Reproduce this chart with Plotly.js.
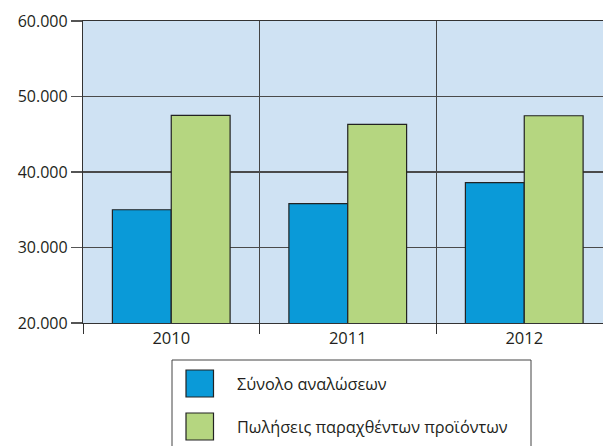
<!DOCTYPE html>
<html>
<head>
<meta charset="utf-8">
<script src="https://cdn.plot.ly/plotly-3.0.1.min.js"></script>
<style>html,body{margin:0;padding:0;background:#fff;}#chart{width:603px;height:446px;}</style>
</head>
<body>
<div id="chart"></div>
<script>
const years = ['2010', '2011', '2012'];
const seriesNames = ['Σύνολο αναλώσεων', 'Πωλήσεις παραχθέντων προϊόντων'];
const consumption = [35000, 35800, 38600];
const sales = [47500, 46300, 47450];
const seriesColors = ['#0a9ad8', '#b5d680'];
const yTicks = [20000, 30000, 40000, 50000, 60000];

const W = 603, H = 446, L = 83, R = 0, T = 21, B = 123;
const pw = W - L - R, ph = H - T - B;
const px = x => (x - L) / pw;
const py = y => (H - B - y) / ph;

const textColor = '#231f20';
const font = {family: '"Open Sans", sans-serif', size: 16, color: textColor};

const traces = [consumption, sales].map((vals, i) => ({
  type: 'bar',
  name: seriesNames[i],
  x: years,
  y: vals,
  marker: {color: seriesColors[i], line: {color: '#222', width: 1.2}},
  showlegend: false,
  hoverinfo: 'none'
}));

const shapes = [];
const annotations = [];
// legend box
shapes.push({type: 'rect', xref: 'paper', yref: 'paper',
  x0: px(172), x1: px(531), y0: py(360), y1: py(452),
  line: {color: '#444', width: 1}, fillcolor: 'rgba(0,0,0,0)'});
const itemY = [383.5, 426.5];
seriesNames.forEach((n, i) => {
  shapes.push({type: 'rect', xref: 'paper', yref: 'paper',
    x0: px(186), x1: px(213.5), y0: py(itemY[i] - 13.5), y1: py(itemY[i] + 13.5),
    line: {color: '#222', width: 1.2}, fillcolor: seriesColors[i]});
  annotations.push({xref: 'paper', yref: 'paper', x: px(235), y: py(itemY[i]),
    xanchor: 'left', yanchor: 'middle', showarrow: false, text: n,
    font: {family: '"Open Sans", sans-serif', size: 16.3, color: textColor}});
});

const layout = {
  width: W, height: H,
  margin: {l: L, r: R, t: T, b: B, pad: 0},
  paper_bgcolor: '#fff',
  plot_bgcolor: '#cfe2f3',
  separators: ',.',
  font: font,
  barmode: 'group',
  bargap: 0.333,
  bargroupgap: 0,
  showlegend: false,
  xaxis: {
    type: 'category',
    range: [-0.5, 2.5 - (9.5 / 176.5)],
    tickson: 'boundaries',
    ticks: 'outside', ticklen: 10, tickcolor: '#333', tickwidth: 1,
    showgrid: true, gridcolor: '#444', gridwidth: 1,
    showline: true, linecolor: '#333', linewidth: 1.2, mirror: true,
    tickfont: {family: '"Open Sans", sans-serif', size: 16.5, color: textColor},
    fixedrange: true
  },
  yaxis: {
    range: [20000, 60000],
    tickvals: yTicks,
    tickformat: ',d',
    ticks: 'outside', ticklen: 11, tickcolor: '#555', tickwidth: 1.5,
    showgrid: true, gridcolor: '#4a4a4a', gridwidth: 1.2,
    showline: true, linecolor: '#333', linewidth: 1.2,
    zeroline: false,
    tickfont: {family: '"Open Sans", sans-serif', size: 16, color: textColor},
    fixedrange: true
  },
  shapes: shapes,
  annotations: annotations
};

Plotly.newPlot('chart', traces, layout, {staticPlot: true, displayModeBar: false});
</script>
</body>
</html>
